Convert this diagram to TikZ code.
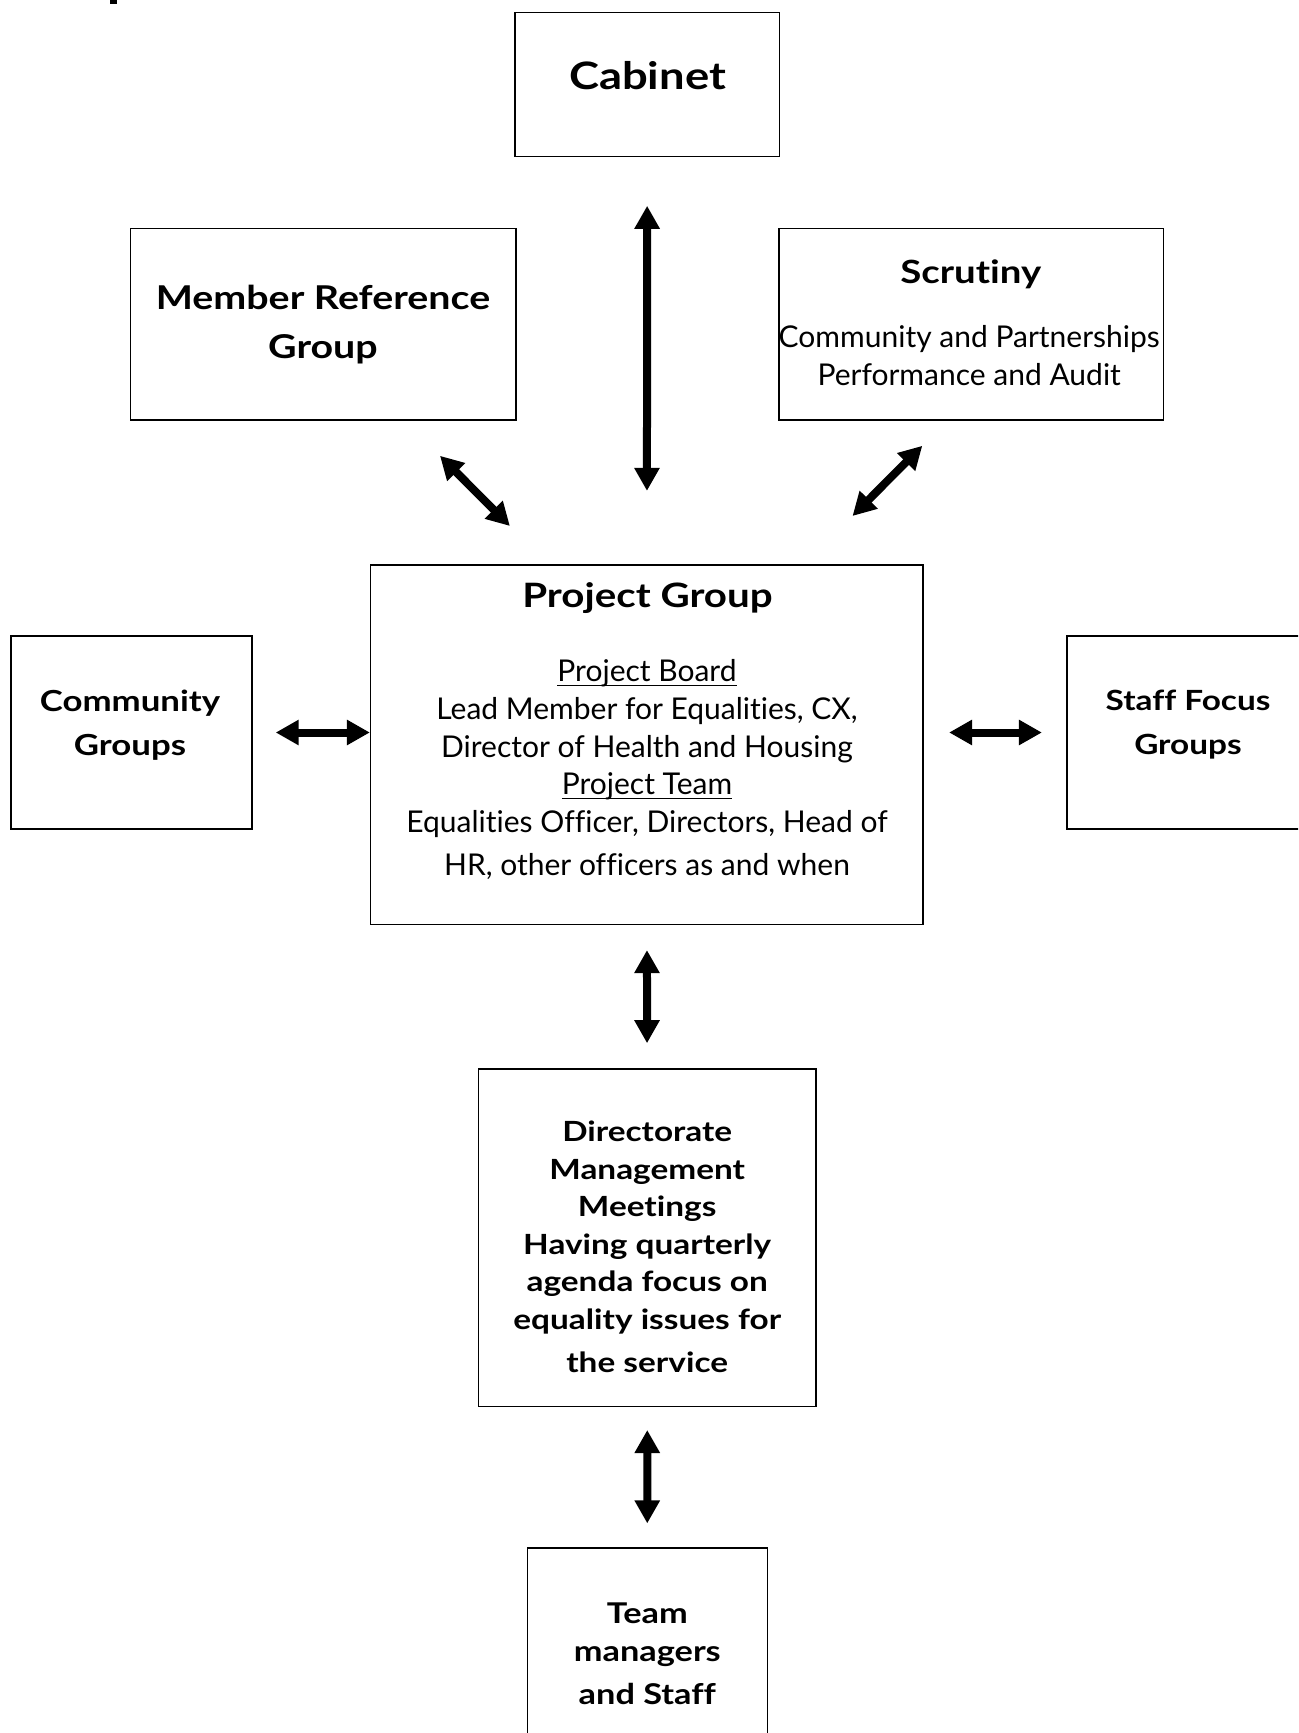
\documentclass[tikz,border=0pt]{standalone}
\usepackage{fontspec}
\setmainfont{Lato}[Ligatures=NoCommon, BoldFeatures={FakeStretch=1.2}]
\usetikzlibrary{arrows.meta}

% underline at a fixed depth, crossing the descenders
\newcommand{\uln}[1]{\setbox0\hbox{#1}\rlap{\rule[-2.3pt]{\wd0}{0.6pt}}\box0}

\tikzset{
  box/.style={draw, line width=0.7pt, inner sep=0pt},
  title/.style={font=\bfseries\fontsize{16.4}{24.5}\selectfont, align=center, anchor=base, inner sep=0pt},
  body/.style={font=\fontsize{15}{18.8}\selectfont, align=center, anchor=base, inner sep=0pt},
  boldbody/.style={font=\bfseries\fontsize{13.9}{18.8}\selectfont, align=center, anchor=base, inner sep=0pt},
  biarrow/.style={{Triangle[length=11.5pt,width=12pt]}-{Triangle[length=11.5pt,width=12pt]}, line width=4pt},
}

\begin{document}
\begin{tikzpicture}[x=0.5pt, y=-0.5pt]
  \useasboundingbox (0,0) rectangle (1298,1733);
  \clip (0,0) rectangle (1298,1733);

  % cut-off heading
  \fill (110,0) rectangle (117,4.5);

  % boxes
  \node[box, minimum width=132.2pt, minimum height=72pt] (cabinet) at (647.2,84.7) {};
  \node[box, minimum width=192.7pt, minimum height=95.9pt] (member) at (323.3,324.2) {};
  \node[box, minimum width=192.2pt, minimum height=95.9pt] (scrutiny) at (971.2,324.2) {};
  \node[box, minimum width=276.2pt, minimum height=179.7pt] (project) at (646.8,744.7) {};
  \node[box, minimum width=120.5pt, minimum height=96.5pt] (community) at (131.5,732.5) {};
  \node[box, minimum width=121pt, minimum height=96.5pt] (staff) at (1188,732.5) {};
  \node[box, minimum width=168.9pt, minimum height=168.9pt] (directorate) at (647.2,1237.8) {};
  \node[box, minimum width=120pt, minimum height=110.9pt] (team) at (647.3,1659) {};

  % texts (base = baseline of the last line)
  \node[title, font=\bfseries\fontsize{18.9}{22}\selectfont] (cabinet-t) at (647.5,90) {Cabinet};
  \node[title] (member-t) at (323,358) {Member Reference\\Group};
  \node[title, font=\bfseries\fontsize{16}{20}\selectfont] (scrutiny-t) at (970.8,284) {Scrutiny};
  \node[body] (scrutiny-b) at (969.2,385.5) {Community and Partnerships\\Performance and Audit};
  \node[title, font=\bfseries\fontsize{16.8}{20}\selectfont] (project-t) at (647.5,607.5) {Project Group};
  \node[body] (project-b) at (647,875.2) {\uln{Project Board}\\Lead Member for Equalities, CX,\\Director of Health and Housing\\\uln{Project Team}\\Equalities Officer, Directors, Head of\\[2.7pt]HR, other officers as and when};
  \node[title, font=\bfseries\fontsize{14.5}{22}\selectfont] (community-t) at (130,755) {Community\\Groups};
  \node[title, font=\bfseries\fontsize{13.9}{22}\selectfont] (staff-t) at (1188,754) {Staff Focus\\Groups};
  \node[boldbody] (directorate-t) at (647.2,1372.5) {Directorate\\Management\\Meetings\\Having quarterly\\agenda focus on\\equality issues for\\[2.7pt]the service};
  \node[boldbody, font=\bfseries\fontsize{14.3}{18.8}\selectfont] (team-t) at (647.3,1704) {Team\\managers\\[2.7pt]and Staff};

  % connectors
  \draw[biarrow, shorten <=24.2pt, shorten >=36.7pt] (cabinet) -- (project);
  \coordinate (member-in) at ([shift={(-76.7,35)}]member.south east);
  \coordinate (project-nw) at ([shift={(140,-38.3)}]project.north west);
  \draw[biarrow] (member-in) -- (project-nw);
  \coordinate (scrutiny-in) at ([shift={(144,25)}]scrutiny.south west);
  \coordinate (project-ne) at ([shift={(-71.2,-48.3)}]project.north east);
  \draw[biarrow] (scrutiny-in) -- (project-ne);
  \draw[biarrow, shorten <=11.5pt] (community.east) -- (community.east -| project.west);
  \draw[biarrow, shorten <=12.7pt, shorten >=12.2pt] (staff.west -| project.east) -- (staff.west);
  \draw[biarrow, shorten <=12.5pt, shorten >=12.5pt] (project) -- (directorate);
  \draw[biarrow, shorten <=11.3pt, shorten >=12pt] (directorate) -- (team);
\end{tikzpicture}
\end{document}
